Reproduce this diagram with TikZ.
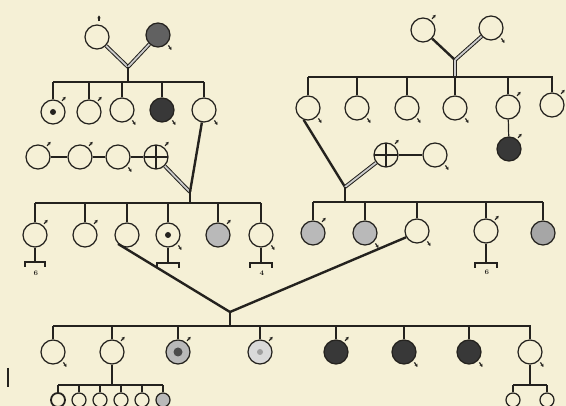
\documentclass[tikz,border=0pt]{standalone}
\usetikzlibrary{arrows.meta,calc}
\definecolor{bg}{RGB}{245,240,214}
\definecolor{ink}{RGB}{36,34,30}
\newcommand\pedM[1]{\draw[sx] (#1.50) ++(1pt,1.5pt) -- ++(3.5pt,4pt);}
\newcommand\pedF[1]{\draw[sx] (#1.-45) ++(1.5pt,-1.5pt) -- ++(3pt,-4.5pt);}
\begin{document}
\begin{tikzpicture}[x=1pt,y=-1pt,
 ind/.style={circle,draw=ink,line width=1.25pt,minimum size=24pt,inner sep=0pt},
 sm/.style={ind,minimum size=14pt},
 blk/.style={ind,fill=black!78},
 gry/.style={ind,fill=gray!55},
 dotc/.style={ind,path picture={\fill[ink] (path picture bounding box.center) circle (3pt);}},
 crs/.style={ind,path picture={\draw[ink,line width=1.4pt] (path picture bounding box.north) -- (path picture bounding box.south) (path picture bounding box.west) -- (path picture bounding box.east);}},
 ln/.style={draw=ink,line width=1.2pt},
 dbl/.style={draw=ink,line width=1pt,double=gray!40,double distance=1.8pt},
 thk/.style={draw=ink,line width=2.4pt},
 sx/.style={draw=ink,line width=1.2pt,-{Stealth[length=3pt,width=3.4pt]}},
 lab/.style={font=\bfseries\fontsize{7}{7}\selectfont,text=ink,inner sep=0pt}
]
\fill[bg] (0,0) rectangle (566,406);
\useasboundingbox (0,0) rectangle (566,406);

% ---------- left family, generation 1 ----------
\node[ind] (lp1) at (97,37) {};
\node[ind,fill=black!62] (lp2) at (158,35) {};
\coordinate (lj1) at (128,67);
\coordinate (lb1a) at (53,82);
\coordinate (lb1b) at (204,82);
\draw[dbl] (lp1) -- (lj1);
\draw[dbl] (lp2) -- (lj1);
\draw[thk] (lj1) -- (lj1 |- lb1a);
\draw[ln] (lb1a) -- (lb1b);
\draw[sx] (lp1.north) ++(2pt,3pt) -- ++(0pt,6pt);
\pedF{lp2}

\node[dotc] (la1) at (53,112) {};
\node[ind] (la2) at (89,112) {};
\node[ind] (la3) at (122,110) {};
\node[blk] (la4) at (162,110) {};
\node[ind] (la5) at (204,110) {};
\foreach \n in {la1,la2,la3,la4,la5} \draw[ln] (\n) -- (\n |- lb1a);
\pedM{la1} \pedM{la2} \pedF{la3} \pedF{la4} \pedF{la5}

% ---------- left family, generation 2 ----------
\node[ind] (lc1) at (38,157) {};
\node[ind] (lc2) at (80,157) {};
\node[ind] (lc3) at (118,157) {};
\node[crs] (lx) at (156,157) {};
\draw[ln] (lc1) -- (lc2) (lc2) -- (lc3) (lc3) -- (lx);
\pedM{lc1} \pedM{lc2} \pedF{lc3} \pedM{lx}
\coordinate (lj2) at (190,192);
\coordinate (lb2a) at (35,203);
\coordinate (lb2b) at (261,203);
\draw[dbl] (lx) -- (lj2);
\draw[thk] (la5) -- (lj2);
\draw[thk] (lj2) -- (lj2 |- lb2a);
\draw[ln] (lb2a) -- (lb2b);

\node[ind] (lg1) at (35,235) {};
\node[ind] (lg2) at (85,235) {};
\node[ind] (lg3) at (127,235) {};
\node[dotc] (lg4) at (168,235) {};
\node[gry] (lg5) at (218,235) {};
\node[ind] (lg6) at (261,235) {};
\foreach \n in {lg1,lg2,lg3,lg4,lg5,lg6} \draw[ln] (\n) -- (\n |- lb2a);
\pedM{lg1} \pedM{lg2} \pedF{lg4} \pedM{lg5} \pedF{lg6}

% brackets
\coordinate (k1) at (35,262);
\draw[ln] (lg1) -- (k1);
\draw[ln] ($(k1)+(-10,5)$) -- ++(0,-5) -- ++(20,0) -- ++(0,5);
\node[lab] (t1) at (36,273) {6};
\coordinate (k2) at (168,263);
\draw[ln] (lg4) -- (k2);
\draw[ln] ($(k2)+(-11,5)$) -- ++(0,-5) -- ++(22,0) -- ++(0,5);
\coordinate (k3) at (261,263);
\draw[ln] (lg6) -- (k3);
\draw[ln] ($(k3)+(-11,5)$) -- ++(0,-5) -- ++(22,0) -- ++(0,5);
\node[lab] (t3) at (262,273) {4};

% ---------- right family, generation 1 ----------
\node[ind] (rp1) at (423,30) {};
\node[ind] (rp2) at (491,28) {};
\coordinate (rj1) at (455,60);
\coordinate (rb1a) at (308,77);
\coordinate (rb1b) at (553,77);
\draw[thk] (rp1) -- (rj1);
\draw[dbl] (rp2) -- (rj1);
\draw[dbl] (rj1) -- (rj1 |- rb1a);
\draw[ln] (rb1a) -- (rb1b);
\pedM{rp1} \pedF{rp2}

\node[ind] (rr1) at (308,108) {};
\node[ind] (rr2) at (357,108) {};
\node[ind] (rr3) at (407,108) {};
\node[ind] (rr4) at (455,108) {};
\node[ind] (rr5) at (508,107) {};
\node[ind] (rr6) at (552,105) {};
\foreach \n in {rr1,rr2,rr3,rr4,rr5,rr6} \draw[ln] (\n) -- (\n |- rb1a);
\pedF{rr1} \pedF{rr2} \pedF{rr3} \pedF{rr4} \pedM{rr5} \pedM{rr6}
\node[blk] (rk) at (509,149) {};
\draw[ln] (rr5) -- (rk);
\pedM{rk}

% ---------- right family, generation 2 ----------
\node[crs] (rx) at (386,155) {};
\node[ind] (rw) at (435,155) {};
\draw[ln] (rx) -- (rw);
\pedM{rx} \pedF{rw}
\coordinate (rj2) at (345,187);
\coordinate (rb2a) at (313,202);
\coordinate (rb2b) at (543,202);
\draw[thk] (rr1.-110) -- (rj2);
\draw[dbl] (rx) -- (rj2);
\draw[thk] (rj2) -- (rj2 |- rb2a);
\draw[ln] (rb2a) -- (rb2b);

\node[gry] (rg1) at (313,233) {};
\node[gry] (rg2) at (365,233) {};
\node[ind] (rg3) at (417,231) {};
\node[ind] (rg4) at (486,231) {};
\node[gry,fill=gray!70] (rg5) at (543,233) {};
\foreach \n in {rg1,rg2,rg3,rg4,rg5} \draw[ln] (\n) -- (\n |- rb2a);
\pedM{rg1} \pedF{rg2} \pedF{rg3} \pedM{rg4}
\coordinate (k4) at (486,263);
\draw[ln] (rg4) -- (k4);
\draw[ln] ($(k4)+(-11,5)$) -- ++(0,-5) -- ++(22,0) -- ++(0,5);
\node[lab] (t4) at (487,272) {6};

% ---------- joint offspring ----------
\coordinate (bj) at (230,312);
\coordinate (bba) at (53,326);
\coordinate (bbb) at (531,326);
\draw[thk] (lg3.-135) -- (bj);
\draw[thk] (rg3.-150) -- (bj);
\draw[thk] (bj) -- (bj |- bba);
\draw[ln] (bba) -- (bbb);

\node[ind] (b1) at (53,352) {};
\node[ind] (b2) at (112,352) {};
\node[ind,fill=gray!55,path picture={\fill[black!70] (path picture bounding box.center) circle (4.5pt);}] (b3) at (178,352) {};
\node[ind,fill=gray!30,path picture={\fill[gray!75] (path picture bounding box.center) circle (3pt);}] (b4) at (260,352) {};
\node[blk] (b5) at (336,352) {};
\node[blk] (b6) at (404,352) {};
\node[blk] (b7) at (469,352) {};
\node[ind] (b8) at (530,352) {};
\foreach \n in {b1,b2,b3,b4,b5,b6,b7,b8} \draw[ln] (\n) -- (\n |- bba);
\pedF{b1} \pedM{b2} \pedM{b3} \pedM{b4} \pedM{b5} \pedF{b6} \pedF{b7} \pedF{b8}

% grandchildren of b2
\coordinate (sba) at (58,385);
\coordinate (sbb) at (163,385);
\draw[ln] (b2) -- (b2 |- sba);
\draw[ln] (sba) -- (sbb);
\node[sm,line width=1.8pt] (c1) at (58,400) {};
\node[sm] (c2) at (79,400) {};
\node[sm] (c3) at (100,400) {};
\node[sm] (c4) at (121,400) {};
\node[sm] (c5) at (142,400) {};
\node[sm,fill=gray!55] (c6) at (163,400) {};
\foreach \n in {c1,c2,c3,c4,c5,c6} \draw[ln] (\n) -- (\n |- sba);

% grandchildren of b8
\coordinate (sca) at (513,385);
\coordinate (scb) at (547,385);
\draw[ln] (b8) -- (b8 |- sca);
\draw[ln] (sca) -- (scb);
\node[sm] (d1) at (513,400) {};
\node[sm] (d2) at (547,400) {};
\foreach \n in {d1,d2} \draw[ln] (\n) -- (\n |- sca);

% stray mark at left edge
\draw[ink,line width=1.3pt] (8,368) -- (8,387);
\end{tikzpicture}
\end{document}
